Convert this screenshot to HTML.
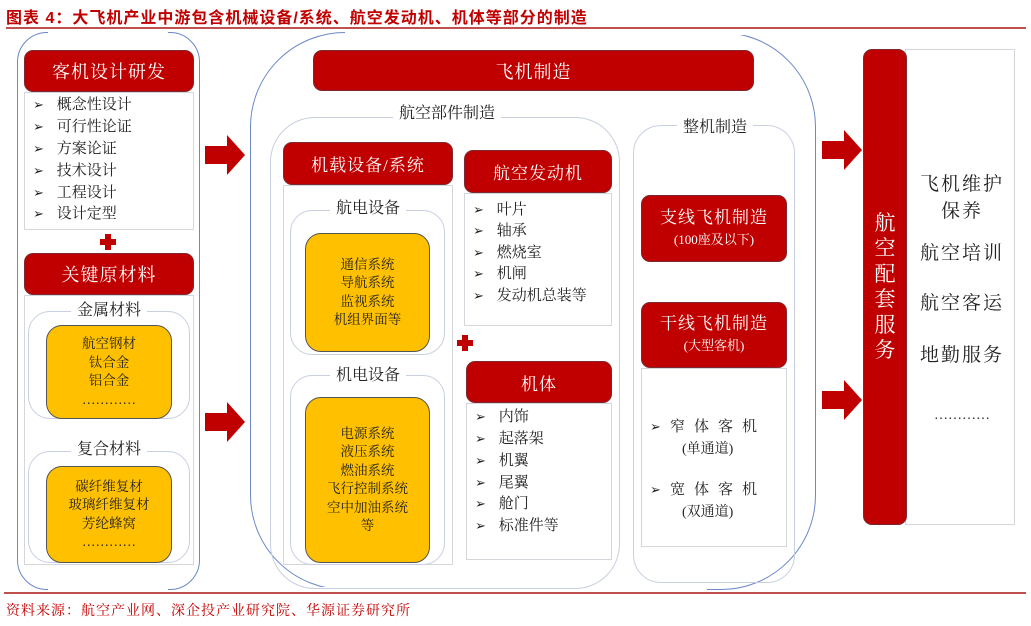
<!DOCTYPE html>
<html><head><meta charset="utf-8"><style>
*{margin:0;padding:0;box-sizing:border-box}
body{width:1031px;height:626px;background:#fff;position:relative;overflow:hidden;font-family:"Liberation Serif","Noto Serif CJK SC","Noto Sans CJK SC",serif;color:#222}
.a{position:absolute}
.w{position:absolute;background:#fff}
.red{position:absolute;background:#c00000;border:1.5px solid #7a2a30;border-radius:9px;color:#fff;display:flex;align-items:center;justify-content:center;flex-direction:column;text-align:center;font-size:17px;letter-spacing:1px}
.box{position:absolute;border:1px solid #d4d6dc;background:#fff}
.org{position:absolute;background:#ffc000;border:1.5px solid #555;border-radius:16px;display:flex;align-items:center;justify-content:center;flex-direction:column;text-align:center;font-size:13.5px;line-height:18.5px}
.br{position:absolute;border:1.2px solid #c8cfe0;border-radius:22px}
.bb{position:absolute;border:1.3px solid #6b88c8}
.lbl{position:absolute;background:#fff;font-size:16px;text-align:center;padding:0 6px;transform:translateX(-50%);line-height:20px}
.li{position:absolute;font-size:15px;line-height:20px;white-space:nowrap}
.li b{font-weight:normal;display:inline-block;width:20px;font-size:13px}
.arrow{position:absolute;width:40px;height:40px}
.plus{position:absolute;width:16px;height:16px}
.plus:before{content:"";position:absolute;left:5px;top:0;width:6px;height:16px;background:#c00000}
.plus:after{content:"";position:absolute;left:0;top:5px;width:16px;height:6px;background:#c00000}
</style></head><body>
<div class="a" style="left:6px;top:4px;font-size:16px;font-weight:bold;color:#c00000;font-family:'Liberation Sans','Noto Sans CJK SC',sans-serif;letter-spacing:1px">图表 4：大飞机产业中游包含机械设备/系统、航空发动机、机体等部分的制造</div>
<div class="a" style="left:6px;top:27px;width:1020px;height:2px;background:#c0504d"></div>

<!-- outer brackets -->
<div class="bb" style="left:17px;top:32px;width:183px;height:558px;border-radius:30px"></div>
<div class="w" style="left:48px;top:30px;width:120px;height:5px"></div>
<div class="w" style="left:48px;top:587px;width:120px;height:5px"></div>
<div class="bb" style="left:250px;top:32px;width:566px;height:558px;border-radius:95px"></div>
<div class="w" style="left:345px;top:30px;width:412px;height:5px"></div>
<div class="w" style="left:287px;top:587px;width:420px;height:5px"></div>

<!-- left column -->
<div class="a" style="left:24px;top:50px;width:170px;height:515px;background:#fff"></div>
<div class="red" style="left:24px;top:50px;width:170px;height:42px;font-size:18px">客机设计研发</div>
<div class="box" style="left:24px;top:92px;width:170px;height:138px"></div>
<div class="li" style="left:33px;top:95px"><b>➢</b>&nbsp;概念性设计</div>
<div class="li" style="left:33px;top:117px"><b>➢</b>&nbsp;可行性论证</div>
<div class="li" style="left:33px;top:139px"><b>➢</b>&nbsp;方案论证</div>
<div class="li" style="left:33px;top:161px"><b>➢</b>&nbsp;技术设计</div>
<div class="li" style="left:33px;top:183px"><b>➢</b>&nbsp;工程设计</div>
<div class="li" style="left:33px;top:204px"><b>➢</b>&nbsp;设计定型</div>
<div class="plus" style="left:100px;top:234px"></div>
<div class="red" style="left:24px;top:253px;width:170px;height:42px;font-size:18px">关键原材料</div>
<div class="box" style="left:24px;top:295px;width:170px;height:270px"></div>
<div class="br" style="left:28px;top:311px;width:162px;height:108px"></div>
<div class="lbl" style="left:109px;top:301px">金属材料</div>
<div class="org" style="left:46px;top:325px;width:126px;height:94px">航空钢材<br>钛合金<br>铝合金<br>…………</div>
<div class="br" style="left:28px;top:451px;width:162px;height:112px"></div>
<div class="lbl" style="left:109px;top:440px">复合材料</div>
<div class="org" style="left:46px;top:466px;width:126px;height:97px">碳纤维复材<br>玻璃纤维复材<br>芳纶蜂窝<br>…………</div>

<!-- arrows -->
<svg class="arrow" style="left:205px;top:135px" viewBox="0 0 40 40"><polygon points="0,11 22,11 22,0 40,20 22,40 22,29 0,29" fill="#c00000"/></svg>
<svg class="arrow" style="left:205px;top:402px" viewBox="0 0 40 40"><polygon points="0,11 22,11 22,0 40,20 22,40 22,29 0,29" fill="#c00000"/></svg>
<svg class="arrow" style="left:822px;top:130px" viewBox="0 0 40 40"><polygon points="0,11 22,11 22,0 40,20 22,40 22,29 0,29" fill="#c00000"/></svg>
<svg class="arrow" style="left:822px;top:380px" viewBox="0 0 40 40"><polygon points="0,11 22,11 22,0 40,20 22,40 22,29 0,29" fill="#c00000"/></svg>

<!-- middle -->
<div class="red" style="left:313px;top:50px;width:441px;height:41px;font-size:18px">飞机制造</div>
<div class="br" style="left:270px;top:117px;width:350px;height:472px;border-radius:45px"></div>
<div class="lbl" style="left:447px;top:104px">航空部件制造</div>
<div class="a" style="left:283px;top:142px;width:170px;height:423px;background:#fff"></div>
<div class="red" style="left:283px;top:142px;width:170px;height:43px">机载设备/系统</div>
<div class="box" style="left:283px;top:185px;width:170px;height:380px"></div>
<div class="br" style="left:290px;top:210px;width:155px;height:145px"></div>
<div class="lbl" style="left:368px;top:199px">航电设备</div>
<div class="org" style="left:305px;top:233px;width:125px;height:119px">通信系统<br>导航系统<br>监视系统<br>机组界面等</div>
<div class="br" style="left:290px;top:375px;width:155px;height:190px"></div>
<div class="lbl" style="left:368px;top:366px">机电设备</div>
<div class="org" style="left:305px;top:397px;width:125px;height:166px">电源系统<br>液压系统<br>燃油系统<br>飞行控制系统<br>空中加油系统<br>等</div>

<div class="red" style="left:464px;top:150px;width:148px;height:43px">航空发动机</div>
<div class="box" style="left:464px;top:193px;width:148px;height:133px"></div>
<div class="li" style="left:473px;top:200px"><b>➢</b>&nbsp;叶片</div>
<div class="li" style="left:473px;top:221px"><b>➢</b>&nbsp;轴承</div>
<div class="li" style="left:473px;top:243px"><b>➢</b>&nbsp;燃烧室</div>
<div class="li" style="left:473px;top:264px"><b>➢</b>&nbsp;机闸</div>
<div class="li" style="left:473px;top:286px"><b>➢</b>&nbsp;发动机总装等</div>
<div class="plus" style="left:457px;top:335px"></div>
<div class="red" style="left:466px;top:361px;width:146px;height:42px">机体</div>
<div class="box" style="left:466px;top:403px;width:146px;height:157px"></div>
<div class="li" style="left:475px;top:407px"><b>➢</b>&nbsp;内饰</div>
<div class="li" style="left:475px;top:429px"><b>➢</b>&nbsp;起落架</div>
<div class="li" style="left:475px;top:451px"><b>➢</b>&nbsp;机翼</div>
<div class="li" style="left:475px;top:473px"><b>➢</b>&nbsp;尾翼</div>
<div class="li" style="left:475px;top:494px"><b>➢</b>&nbsp;舱门</div>
<div class="li" style="left:475px;top:516px"><b>➢</b>&nbsp;标准件等</div>

<div class="br" style="left:633px;top:125px;width:162px;height:458px;border-radius:28px"></div>
<div class="lbl" style="left:715px;top:118px">整机制造</div>
<div class="red" style="left:641px;top:195px;width:146px;height:67px;line-height:22px">支线飞机制造<span style="font-size:13px;letter-spacing:0">(100座及以下)</span></div>
<div class="red" style="left:641px;top:302px;width:146px;height:66px;line-height:22px">干线飞机制造<span style="font-size:13px;letter-spacing:0">(大型客机)</span></div>
<div class="box" style="left:641px;top:368px;width:146px;height:179px"></div>
<div class="li" style="left:650px;top:417px;letter-spacing:9px"><b>➢</b>窄体客机</div>
<div class="li" style="left:682px;top:440px;font-size:14px">(单通道)</div>
<div class="li" style="left:650px;top:480px;letter-spacing:9px"><b>➢</b>宽体客机</div>
<div class="li" style="left:682px;top:503px;font-size:14px">(双通道)</div>

<!-- right -->
<div class="box" style="left:905px;top:49px;width:110px;height:476px"></div>
<div class="red" style="left:863px;top:49px;width:44px;height:476px;font-size:21px;line-height:25.5px;letter-spacing:0">航<br>空<br>配<br>套<br>服<br>务</div>
<div class="a" style="left:910px;top:171px;width:104px;text-align:center;font-size:19px;line-height:27px;letter-spacing:2px">飞机维护<br>保养</div>
<div class="a" style="left:910px;top:238px;width:104px;text-align:center;font-size:19px;letter-spacing:2px">航空培训</div>
<div class="a" style="left:910px;top:288px;width:104px;text-align:center;font-size:19px;letter-spacing:2px">航空客运</div>
<div class="a" style="left:910px;top:340px;width:104px;text-align:center;font-size:19px;letter-spacing:2px">地勤服务</div>
<div class="a" style="left:910px;top:408px;width:104px;text-align:center;font-size:14px">…………</div>

<div class="a" style="left:4px;top:592px;width:1022px;height:2px;background:#c0504d"></div>
<div class="a" style="left:6px;top:600px;font-size:14px;color:#c00000;letter-spacing:1px">资料来源：航空产业网、深企投产业研究院、华源证券研究所</div>
</body></html>
